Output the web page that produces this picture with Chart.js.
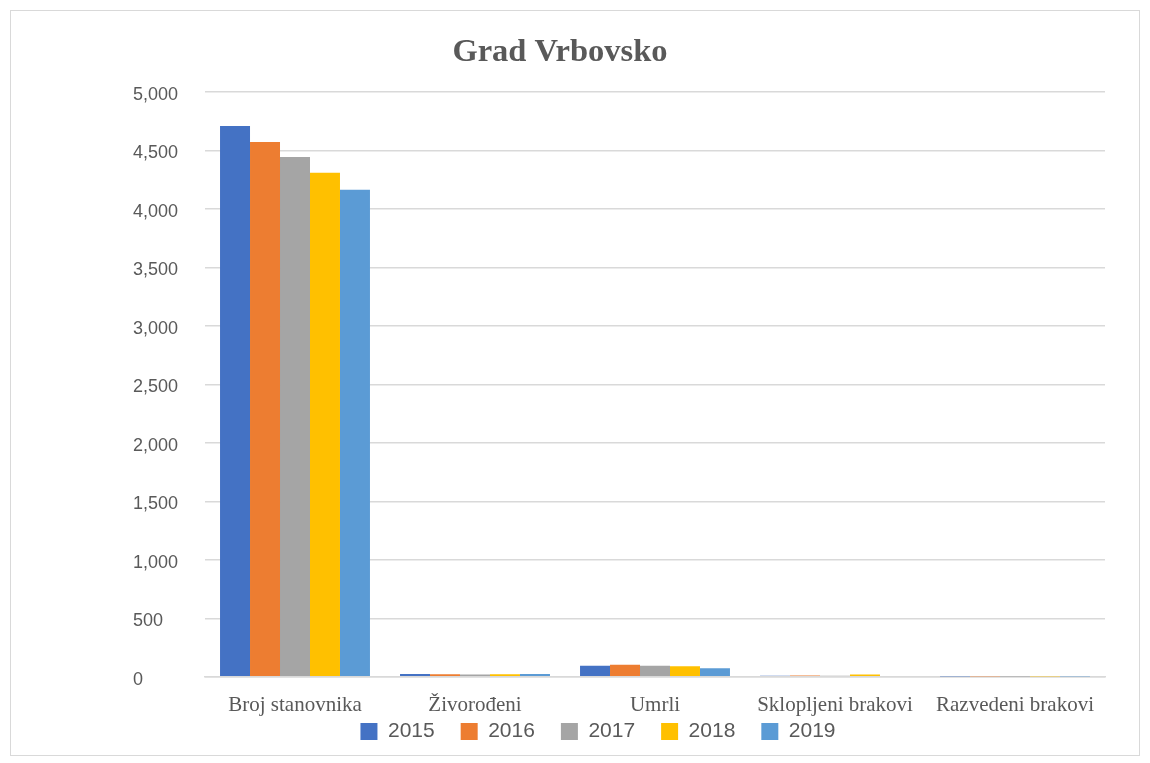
<!DOCTYPE html>
<html>
<head>
<meta charset="utf-8">
<script src="https://cdn.jsdelivr.net/npm/chart.js@4"></script>
<style>
  html, body { margin: 0; padding: 0; background: #fff; }
  #frame { position: absolute; left: 10px; top: 10px; width: 1130px; height: 746px; border: 1px solid #d9d9d9; box-sizing: border-box; }
  #c { display: block; }
</style>
</head>
<body>
<div id="frame"><canvas id="c" width="1128" height="744"></canvas></div>
<script>
var categories = ['Broj stanovnika', 'Živorođeni', 'Umrli', 'Sklopljeni brakovi', 'Razvedeni brakovi'];
var years = ['2015', '2016', '2017', '2018', '2019'];
var colors = ['#4472c4', '#ed7d31', '#a5a5a5', '#ffc000', '#5b9bd5'];

var v2015 = [4710, 25, 94, 8, 2];
var v2016 = [4573, 22, 102, 12, 3];
var v2017 = [4445, 20, 94, 10, 1];
var v2018 = [4309, 22, 90, 20, 2];
var v2019 = [4164, 24, 73, 6, 2];

var allValues = [v2015, v2016, v2017, v2018, v2019];

var datasets = years.map(function (y, i) {
  return {
    label: y,
    data: allValues[i],
    backgroundColor: colors[i],
    borderWidth: 0,
    barPercentage: 1.0,
    categoryPercentage: 0.833
  };
});

// nudge legend (off centre, close under the axis labels) and left-align the y labels
var tweaks = {
  id: 'tweaks',
  afterLayout: function (chart) {
    chart.legend.left += 38;
    chart.legend.right += 38;
    chart.legend.top -= 39;
    chart.scales.y.left = 122;
  }
};

var ctx = document.getElementById('c').getContext('2d');
var chart = new Chart(ctx, {
  type: 'bar',
  data: { labels: categories, datasets: datasets },
  plugins: [tweaks],
  options: {
    responsive: false,
    animation: false,
    layout: { padding: { left: 4, right: 34, top: 0, bottom: 1 } },
    plugins: {
      title: {
        display: true,
        text: 'Grad Vrbovsko',
        color: '#595959',
        font: { family: '"Liberation Serif", "DejaVu Serif", serif', size: 32.5, weight: 'bold' },
        padding: { top: 22, bottom: 20 }
      },
      legend: {
        position: 'bottom',
        maxHeight: 20,
        labels: {
          color: '#595959',
          font: { family: '"Liberation Sans", Arial, sans-serif', size: 21 },
          boxWidth: 17,
          boxHeight: 17,
          padding: 26
        }
      },
      tooltip: { enabled: false }
    },
    scales: {
      x: {
        grid: { display: false, drawTicks: false },
        border: { color: '#d9d9d9', width: 1.5 },
        ticks: {
          color: '#595959',
          font: { family: '"Liberation Serif", "DejaVu Serif", serif', size: 21 },
          padding: 16
        }
      },
      y: {
        min: 0,
        max: 5000,
        afterFit: function (scale) { scale.width = 190; },
        ticks: {
          stepSize: 500,
          color: '#595959',
          padding: 28,
          crossAlign: 'far',
          labelOffset: 3,
          font: { family: '"Liberation Sans", Arial, sans-serif', size: 18 },
          callback: function (v) { return v.toLocaleString('en-US'); }
        },
        grid: { color: '#d9d9d9', lineWidth: 1.5, drawTicks: false },
        border: { display: false }
      }
    }
  }
});
</script>
</body>
</html>
